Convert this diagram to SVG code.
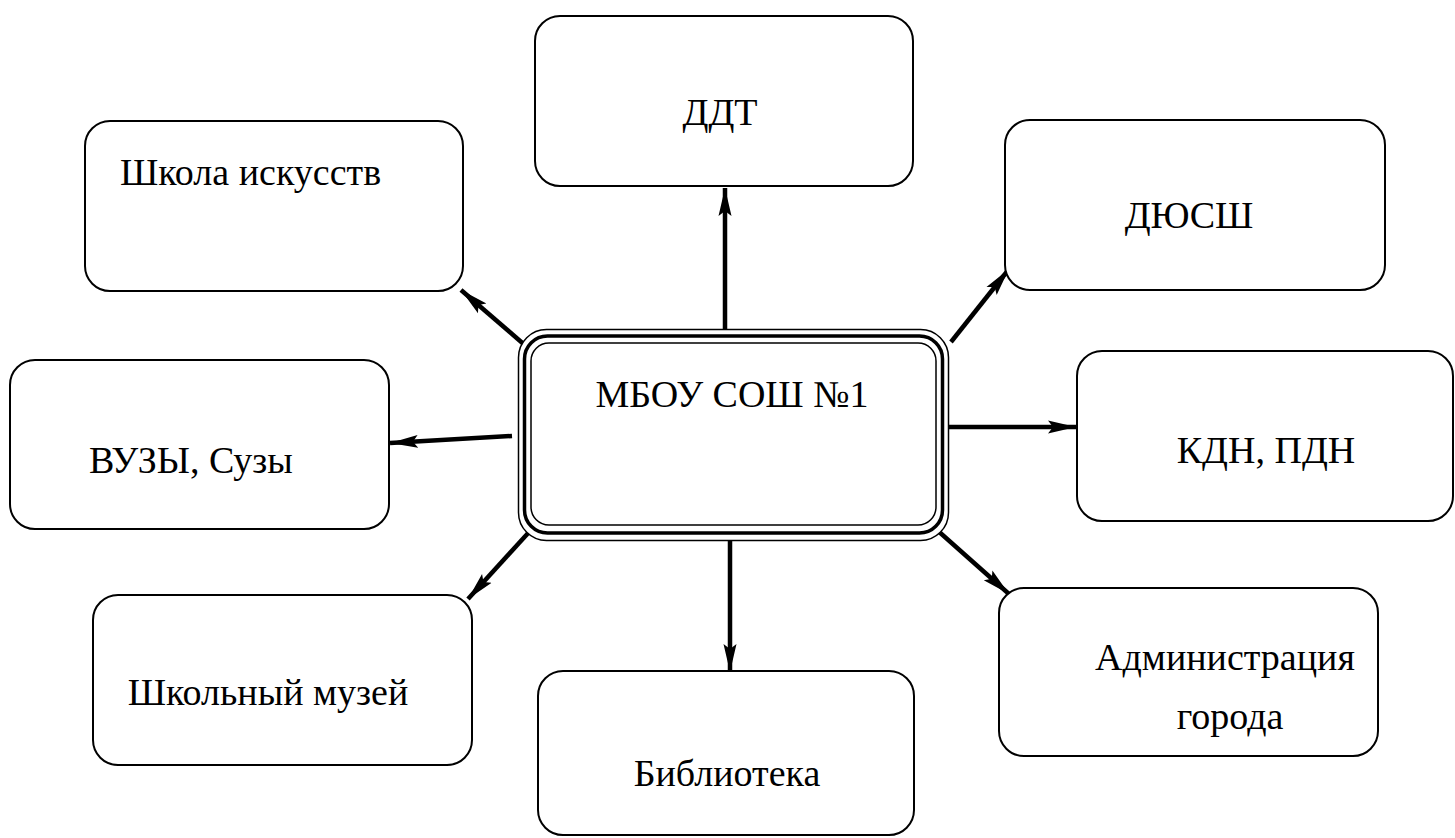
<svg xmlns="http://www.w3.org/2000/svg" width="1455" height="838" viewBox="0 0 1455 838">
<style>
.box{fill:#fff;stroke:#000;stroke-width:2}
.c{stroke:#000;stroke-width:4.5;fill:none}
</style>
<defs>
<marker id="ah" markerUnits="userSpaceOnUse" markerWidth="32" markerHeight="20" refX="28" refY="8" orient="auto">
<path d="M0,1.5 L28,8 L0,14.5 L5,8 Z" fill="#000"/>
</marker>
</defs>
<rect width="1455" height="838" fill="#fff"/>
<g id="connectors">
<line class="c" x1="725" y1="330" x2="725" y2="188" marker-end="url(#ah)"/>
<line class="c" x1="527" y1="347" x2="461" y2="290" marker-end="url(#ah)"/>
<line class="c" x1="951" y1="342" x2="1009" y2="269" marker-end="url(#ah)"/>
<line class="c" x1="512" y1="436" x2="390" y2="443" marker-end="url(#ah)"/>
<line class="c" x1="946" y1="427" x2="1076" y2="427" marker-end="url(#ah)"/>
<line class="c" x1="530" y1="531" x2="468" y2="599" marker-end="url(#ah)"/>
<line class="c" x1="730" y1="525" x2="730" y2="672" marker-end="url(#ah)"/>
<line class="c" x1="937" y1="530" x2="1009" y2="594" marker-end="url(#ah)"/>
</g>
<g id="center">
<rect x="518.5" y="329.5" width="430" height="211" rx="28" fill="#fff" stroke="#000" stroke-width="1.5"/>
<rect x="524.5" y="336" width="418" height="197" rx="23" fill="none" stroke="#000" stroke-width="3.5"/>
<rect x="531" y="343" width="405" height="182" rx="18" fill="none" stroke="#000" stroke-width="1.5"/>
<text font-family="Liberation Serif" font-size="38" x="732" y="407" text-anchor="middle">МБОУ СОШ №1</text>
</g>
<g id="ddt">
<rect class="box" x="535" y="16" width="378" height="170" rx="25"/>
<text font-family="Liberation Serif" font-size="38" x="720" y="125" text-anchor="middle">ДДТ</text>
</g>
<g id="school-arts">
<rect class="box" x="85" y="121" width="378" height="170" rx="25"/>
<text font-family="Liberation Serif" font-size="38" x="120" y="185">Школа искусств</text>
</g>
<g id="dyussh">
<rect class="box" x="1005" y="120" width="380" height="170" rx="25"/>
<text font-family="Liberation Serif" font-size="38" x="1189" y="228" text-anchor="middle">ДЮСШ</text>
</g>
<g id="vuzy">
<rect class="box" x="10" y="360" width="379" height="169" rx="25"/>
<text font-family="Liberation Serif" font-size="38" x="191" y="473" text-anchor="middle">ВУЗЫ, Сузы</text>
</g>
<g id="kdn">
<rect class="box" x="1077" y="351" width="376" height="170" rx="25"/>
<text font-family="Liberation Serif" font-size="38" x="1266" y="463" text-anchor="middle">КДН, ПДН</text>
</g>
<g id="museum">
<rect class="box" x="93" y="595" width="379" height="170" rx="25"/>
<text font-family="Liberation Serif" font-size="38" x="268" y="705" text-anchor="middle">Школьный музей</text>
</g>
<g id="library">
<rect class="box" x="538" y="671" width="376" height="164" rx="25"/>
<text font-family="Liberation Serif" font-size="38" x="727" y="786" text-anchor="middle">Библиотека</text>
</g>
<g id="admin">
<rect class="box" x="999" y="588" width="379" height="168" rx="25"/>
<text font-family="Liberation Serif" font-size="38" x="1225" y="670" text-anchor="middle">Администрация</text>
<text font-family="Liberation Serif" font-size="38" x="1230" y="729" text-anchor="middle">города</text>
</g>
</svg>
